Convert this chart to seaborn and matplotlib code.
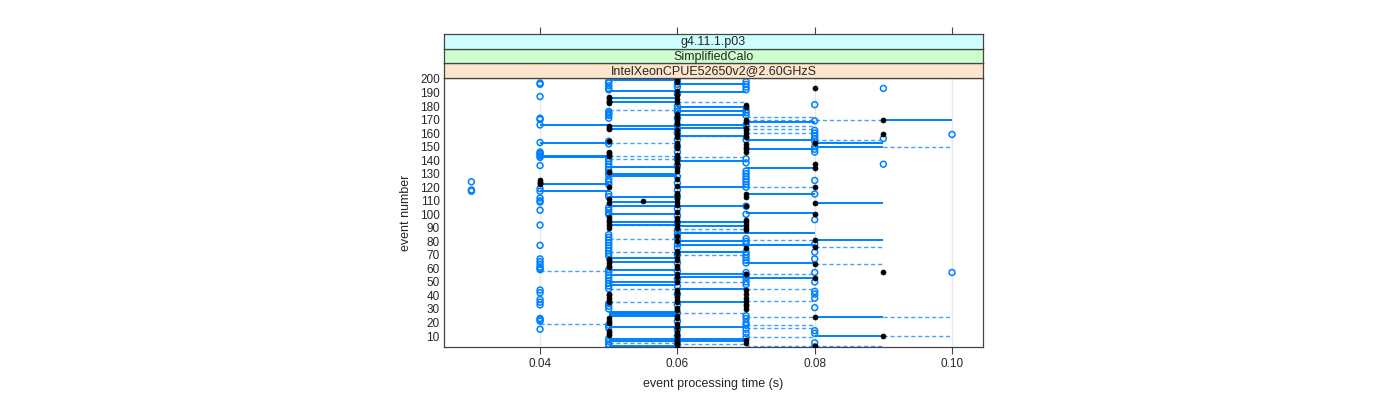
import pandas as pd
import numpy as np
import matplotlib
matplotlib.use("Agg")
import matplotlib.pyplot as plt
import seaborn as sns

# open blue circles: event numbers per processing time
open_030 = [117, 118, 124]
open_040 = [196, 197, 187, 171, 170, 166, 153, 146, 145, 144, 143, 142, 136, 119, 117,
            112, 110, 109, 103, 92, 77, 67, 65, 63, 61, 60, 59, 44, 42, 37, 35, 33, 23,
            22, 21, 15]
open_050 = [198, 197, 195, 193, 192, 176, 175, 174, 173, 171, 154, 152, 141, 139, 137,
            135, 133, 131, 129, 126, 124, 122, 115, 113, 105, 103, 101, 100, 85, 83, 81,
            79, 77, 75, 73, 71, 69, 59, 57, 55, 53, 51, 49, 47, 45, 34, 32, 30, 18, 16,
            8, 6, 4, 3]
open_060 = [199, 196, 194, 189, 180, 178, 176, 171, 166, 163, 160, 155, 150, 146, 141,
            136, 128, 123, 118, 113, 104, 99, 94, 88, 85, 82, 78, 75, 70, 64, 58, 52,
            47, 41, 33, 27, 21, 15, 10, 5, 2]
open_070 = [198, 196, 194, 192, 177, 175, 173, 166, 155, 141, 138, 132, 130, 128, 126,
            124, 122, 120, 106, 100, 82, 80, 78, 72, 70, 68, 66, 64, 57, 55, 53, 50, 48,
            25, 23, 20, 18, 15, 12, 9]
open_080 = [181, 169, 162, 160, 158, 156, 154, 150, 148, 146, 125, 115, 96, 78, 72, 67,
            57, 50, 43, 41, 38, 31, 14, 12, 5, 2]
open_090 = [193, 156, 137]
open_100 = [159, 57]

# filled black dots
dot_040 = [125, 124, 123, 122]
dot_050 = [187, 186, 184, 183, 182, 165, 164, 163, 154, 146, 145, 144, 143, 131, 120,
           111, 108, 98, 96, 94, 92, 90, 67, 66, 64, 62, 61, 41, 40, 38, 36, 35, 23, 21,
           20, 14, 12, 11]
dot_055 = [110]
dot_060 = [200, 198, 191, 188, 185, 183, 174, 172, 169, 167, 162, 159, 157, 153, 151,
           149, 144, 142, 140, 138, 134, 132, 126, 121, 116, 114, 111, 109, 107, 102,
           97, 95, 92, 90, 84, 80, 73, 71, 68, 66, 62, 60, 56, 54, 50, 44, 42, 39, 37,
           35, 31, 29, 25, 23, 19, 17, 13, 11, 8, 6, 4, 1]
dot_070 = [181, 179, 170, 168, 164, 162, 160, 158, 157, 152, 150, 148, 146, 115, 113,
           106, 96, 94, 92, 90, 88, 75, 56, 44, 41, 38, 36, 34, 32, 30, 7, 5]
dot_080 = [193, 153, 137, 134, 120, 108, 100, 81, 76, 63, 53, 24, 3]
dot_090 = [170, 159, 57, 10]

# solid segments (event numbers) between two times
solid_04_05 = [166, 153, 143, 142, 122, 117]
solid_05_06 = [199, 191, 186, 183, 165, 163, 135, 130, 128, 113, 109, 106, 100, 94, 92,
               68, 65, 59, 55, 50, 48, 28, 27, 26, 25, 17, 8, 6, 3]
solid_06_07 = [196, 190, 179, 176, 173, 166, 164, 158, 139, 120, 106, 94, 91, 86, 80,
               77, 72, 56, 54, 45, 35, 17, 8, 6]
solid_07_08 = [168, 155, 148, 134, 115, 101, 86, 77, 64, 53, 1]
solid_08_09 = [153, 150, 108, 81, 24, 10]
solid_09_10 = [170]

# dashed segments
dash_04_05 = [58, 19]
dash_05_06 = [177, 153, 143, 141, 92, 82, 72, 45, 35, 6, 5]
dash_06_07 = [183, 158, 142, 89, 87, 70, 50, 27, 4]
dash_07_08 = [172, 165, 163, 160, 120, 81, 56, 45, 36, 24, 18, 16, 9, 3]
dash_07_09 = [170]
dash_08_09 = [155, 76, 63, 3]
dash_09_10 = [150, 24, 10]

blue = "#0080ff"

def to_frame(pairs):
    rows = []
    for t, evs in pairs:
        for e in evs:
            rows.append({"time": t, "event": e})
    return pd.DataFrame(rows)

open_df = to_frame([(0.03, open_030), (0.04, open_040), (0.05, open_050), (0.06, open_060),
                    (0.07, open_070), (0.08, open_080), (0.09, open_090), (0.10, open_100)])
dot_df = to_frame([(0.04, dot_040), (0.05, dot_050), (0.055, dot_055), (0.06, dot_060),
                   (0.07, dot_070), (0.08, dot_080), (0.09, dot_090)])

sns.set_style("white")
plt.rcParams['font.family'] = ['Liberation Sans', 'DejaVu Sans']

fig = plt.figure(figsize=(14, 4), dpi=100)
L, W = 0.3171, 0.385
ax = fig.add_axes([L, 0.1325, W, 0.6725])

for x in [0.04, 0.06, 0.08, 0.10]:
    ax.axvline(x, color="#e8e8e8", lw=1, zorder=0)

for (x0, x1), evs in [((0.04, 0.05), dash_04_05), ((0.05, 0.06), dash_05_06),
                      ((0.06, 0.07), dash_06_07), ((0.07, 0.08), dash_07_08),
                      ((0.07, 0.09), dash_07_09), ((0.08, 0.09), dash_08_09),
                      ((0.09, 0.10), dash_09_10)]:
    ax.hlines(evs, x0, x1, colors=blue, linestyles=(0, (3, 2)), lw=1.0, alpha=0.75, zorder=1)

for (x0, x1), evs in [((0.04, 0.05), solid_04_05), ((0.05, 0.06), solid_05_06),
                      ((0.06, 0.07), solid_06_07), ((0.07, 0.08), solid_07_08),
                      ((0.08, 0.09), solid_08_09), ((0.09, 0.10), solid_09_10)]:
    ax.hlines(evs, x0, x1, colors=blue, linestyles="solid", lw=1.4, zorder=2)

sns.scatterplot(data=open_df, x="time", y="event", ax=ax, marker="o", s=18,
                facecolor="none", edgecolor=blue, linewidth=1.1, zorder=3)
sns.scatterplot(data=dot_df, x="time", y="event", ax=ax, marker="o", s=13,
                color="black", edgecolor="black", linewidth=0.5, zorder=4)

ax.set_xlim(0.026, 0.1045)
ax.set_ylim(1.9, 200.7)
ax.set_xticks([0.04, 0.06, 0.08, 0.10])
ax.set_xticklabels(["0.04", "0.06", "0.08", "0.10"])
ax.set_yticks(list(range(10, 201, 10)))
ax.tick_params(axis="x", direction="out", length=5, width=0.8, color="#444444",
               labelsize=8.5, pad=3, bottom=True)
ax.tick_params(axis="y", length=0, labelsize=8.5, pad=3)
ax.set_xlabel("event processing time (s)", fontsize=9, labelpad=6)
ax.set_ylabel("event number", fontsize=9, labelpad=6)
for sp in ax.spines.values():
    sp.set_color("#444444")
    sp.set_linewidth(0.9)

strips = [("IntelXeonCPUE52650v2@2.60GHzS", "#ffe5cc", 0.805),
          ("SimplifiedCalo", "#ccffcc", 0.8415),
          ("g4.11.1.p03", "#ccffff", 0.878)]
for label, col, b in strips:
    sax = fig.add_axes([L, b, W, 0.0365])
    sax.set_facecolor(col)
    sax.set_xlim(ax.get_xlim())
    sax.set_yticks([])
    sax.set_xticks([])
    for sp in sax.spines.values():
        sp.set_color("#444444")
        sp.set_linewidth(0.9)
    sax.text(0.5, 0.45, label, ha="center", va="center", fontsize=9,
             transform=sax.transAxes)
    if label == "g4.11.1.p03":
        sax.set_xticks([0.04, 0.06, 0.08, 0.10])
        sax.tick_params(axis="x", top=True, bottom=False, labeltop=False,
                        labelbottom=False, direction="out", length=5, width=0.8,
                        color="#444444")

fig.savefig("out.png", dpi=100)
